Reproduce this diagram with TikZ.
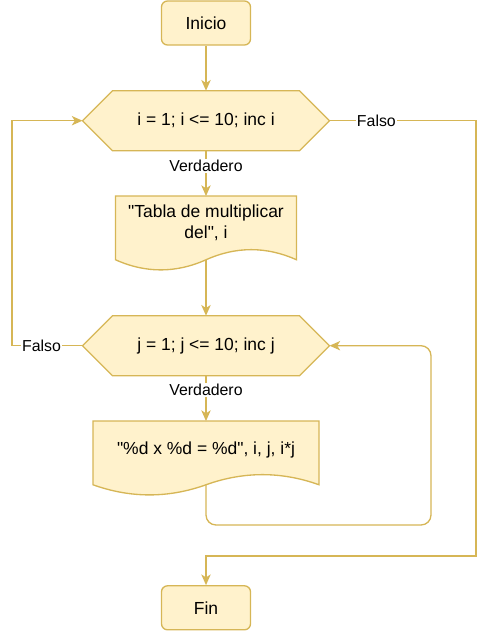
\documentclass[tikz,border=0pt]{standalone}
\usepackage{fontspec}
\setmainfont{Liberation Sans}[Ligatures=TeXOff]
\usetikzlibrary{arrows.meta,calc}
\definecolor{fillc}{HTML}{FFF2CC}
\definecolor{strokec}{HTML}{D6B656}
\pgfdeclarelayer{bg}
\pgfsetlayers{bg,main}
\newcommand\liftup[2]{\raisebox{#1}[\height][\depth]{#2}}
\begin{document}
\begin{tikzpicture}[x=0.75pt,y=-0.75pt,line width=1pt,
  nodefont/.style={font=\fontsize{13.1}{15.5}\selectfont, text=black},
  term/.style={nodefont, draw=strokec, fill=fillc, rounded corners=4.5pt,
    minimum width=66.75pt, minimum height=33pt, inner sep=0pt},
  hexbox/.style={nodefont, minimum width=185.25pt, minimum height=45pt,
    inner sep=0pt, outer sep=0pt},
  docbox/.style={nodefont, minimum height=47.8pt, inner sep=0pt, outer sep=0pt},
  shapeline/.style={draw=strokec, fill=fillc, line width=1pt},
  flow/.style={draw=strokec, line width=1pt,
    -{Stealth[length=8pt,width=7pt,inset=2.2pt]}},
  lbl/.style={fill=white, inner sep=1pt, text=black,
    font=\fontsize{11.9}{14}\selectfont}]
\useasboundingbox (0,0) rectangle (489,632);

% nodes
\node[term] (start) at (206,23) {Inicio};
\node[hexbox] (hexi) at (206,120.7) {i = 1; i <= 10; inc i};
\node[docbox, minimum width=135.75pt] (doc1) at (206,227.9)
  {\liftup{3.2pt}{\begin{tabular}{@{}c@{}}"Tabla de multiplicar\\del", i\end{tabular}}};
\node[hexbox] (hexj) at (206,345.7) {j = 1; j <= 10; inc j};
\node[docbox, minimum width=169.5pt] (doc2) at (206,452.9)
  {\liftup{2.2pt}{"\%d x \%d = \%d", i, j, i*j}};
\node[term] (fin) at (206,607.8) {Fin};

% shapes behind the texts
\begin{pgfonlayer}{bg}
  \foreach \h in {hexi,hexj}{
    \path[shapeline] (\h.west) -- ($(\h.north west)+(30,0)$)
      -- ($(\h.north east)+(-30,0)$) -- (\h.east)
      -- ($(\h.south east)+(-30,0)$) -- ($(\h.south west)+(30,0)$) -- cycle;
  }
  \foreach \d/\ws in {doc1/30.17,doc2/37.67}{
    \path[shapeline] (\d.north west) -- (\d.north east) -- (\d.south east)
      .. controls ($(\d.south east)+(-\ws,-13.5)$) and ($(\d.south)+(\ws,-13.5)$) .. (\d.south)
      .. controls ($(\d.south)+(-\ws,13.5)$) and ($(\d.south west)+(\ws,13.5)$) .. (\d.south west)
      -- cycle;
  }
\end{pgfonlayer}

% helper corners
\coordinate (rx) at (476,556);
\coordinate (lx) at (12,346);
\coordinate (bx) at (431,525);

% connectors
\draw[flow] (start) -- (hexi);
\draw[flow] (hexi) -- node[lbl,pos=0.34]{Verdadero} (doc1);
\draw[flow] (doc1) -- (hexj);
\draw[flow] (hexj) -- node[lbl,pos=0.32]{Verdadero} (doc2);
\draw[flow] (hexi.east) -- node[lbl,pos=0.32]{Falso} (hexi.east -| rx) -- (rx) -| (fin.north);
\draw[flow] (hexj.west) -- node[lbl,pos=0.58]{Falso} (hexj.west -| lx) |- (hexi.west);
\draw[flow, rounded corners=7.5pt] (doc2.south) |- (bx) |- (hexj.east);
\end{tikzpicture}
\end{document}
